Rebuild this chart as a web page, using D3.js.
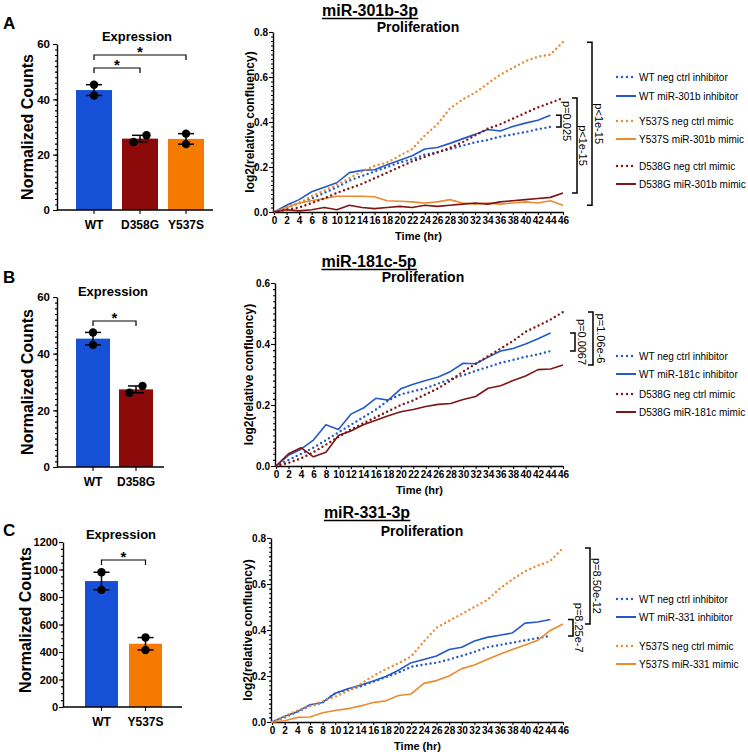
<!DOCTYPE html>
<html><head><meta charset="utf-8">
<script src="https://cdn.jsdelivr.net/npm/d3@7"></script>
<style>
body{margin:0;background:#fff;}
svg{display:block;font-family:"Liberation Sans",Arial,Helvetica,sans-serif;}
</style></head><body>
<svg id="fig" width="748" height="752"></svg>
<script>
// ================= DATA =================
const timeHr = [0,2,4,6,8,10,12,14,16,18,20,22,24,26,28,30,32,34,36,38,40,42,44,46];

// Bar panels (two replicate points each)
const barCatsA = ["WT","D358G","Y537S"];
const barPtsA  = [[45.3,41.4],[27.0,24.6],[27.6,23.8]];
const barTicksA = [0,20,40,60];

const barCatsB = ["WT","D358G"];
const barPtsB  = [[47.5,43.1],[28.6,26.2]];
const barTicksB = [0,20,40,60];

const barCatsC = ["WT","Y537S"];
const barPtsC  = [[980,852],[505,415]];
const barTicksC = [0,200,400,600,800,1000,1200];

// Line panel A: miR-301b-3p
const wtNegA   = [0,0.02,0.04,0.06,0.085,0.11,0.14,0.16,0.18,0.2,0.22,0.235,0.255,0.265,0.28,0.295,0.31,0.32,0.335,0.345,0.355,0.368,0.378];
const wtMirA   = [0,0.03,0.055,0.09,0.11,0.13,0.175,0.185,0.188,0.21,0.23,0.25,0.28,0.287,0.305,0.325,0.345,0.367,0.36,0.38,0.395,0.408,0.43];
const y537NegA = [0,0.02,0.04,0.07,0.095,0.12,0.15,0.18,0.205,0.22,0.25,0.28,0.34,0.39,0.46,0.5,0.53,0.57,0.61,0.64,0.67,0.69,0.70,0.755];
const y537MirA = [0,0.02,0.04,0.05,0.06,0.07,0.07,0.07,0.068,0.05,0.048,0.045,0.04,0.045,0.055,0.04,0.035,0.04,0.035,0.04,0.045,0.04,0.05,0.03];
const d538NegA = [0,0.01,0.02,0.04,0.06,0.085,0.105,0.125,0.15,0.175,0.2,0.225,0.245,0.265,0.285,0.31,0.34,0.37,0.39,0.415,0.44,0.465,0.485,0.507];
const d538MirA = [0,0.01,0.005,0.01,0.02,0.01,0.03,0.02,0.015,0.02,0.025,0.02,0.03,0.025,0.03,0.035,0.04,0.035,0.045,0.05,0.055,0.06,0.065,0.084];
const legendA = ["WT neg ctrl inhibitor","WT miR-301b inhibitor","Y537S neg ctrl mimic","Y537S miR-301b mimic","D538G neg ctrl mimic","D538G miR-301b mimic"];
const pLabelsA = ["p=0.025","p<1e-15","p<1e-15"];

// Line panel B: miR-181c-5p
const wtNegB   = [0,0.02,0.04,0.06,0.085,0.11,0.135,0.16,0.185,0.215,0.235,0.245,0.255,0.27,0.285,0.298,0.312,0.325,0.338,0.348,0.358,0.366,0.377];
const wtMirB   = [0,0.035,0.055,0.085,0.135,0.12,0.17,0.19,0.222,0.216,0.253,0.268,0.28,0.292,0.31,0.337,0.335,0.357,0.377,0.385,0.4,0.417,0.436];
const d538NegB = [0,0.01,0.025,0.045,0.07,0.095,0.12,0.14,0.16,0.18,0.2,0.215,0.235,0.255,0.28,0.31,0.335,0.36,0.385,0.41,0.44,0.46,0.48,0.505];
const d538MirB = [0,0.04,0.06,0.03,0.045,0.1,0.115,0.135,0.15,0.165,0.178,0.185,0.195,0.202,0.205,0.218,0.228,0.255,0.263,0.28,0.295,0.316,0.318,0.331];
const legendB = ["WT neg ctrl inhibitor","WT miR-181c inhibitor","D538G neg ctrl mimic","D538G miR-181c mimic"];
const pLabelsB = ["p=0.0067","p=1.06e-6"];

// Line panel C: miR-331-3p
const wtNegC   = [0,0.02,0.045,0.07,0.085,0.125,0.14,0.155,0.175,0.195,0.215,0.24,0.25,0.258,0.272,0.288,0.305,0.325,0.335,0.345,0.355,0.365,0.374];
const wtMirC   = [0,0.025,0.045,0.075,0.085,0.125,0.145,0.16,0.178,0.198,0.225,0.258,0.272,0.287,0.315,0.325,0.352,0.368,0.377,0.387,0.43,0.435,0.446];
const y537NegC = [0,0.025,0.05,0.07,0.09,0.11,0.135,0.165,0.2,0.23,0.255,0.285,0.35,0.41,0.44,0.47,0.5,0.53,0.58,0.62,0.655,0.68,0.7,0.757];
const y537MirC = [0,0.005,0.02,0.022,0.04,0.05,0.058,0.07,0.085,0.092,0.115,0.122,0.168,0.18,0.2,0.232,0.248,0.272,0.295,0.315,0.335,0.355,0.398,0.426];
const legendC = ["WT neg ctrl inhibitor","WT miR-331 inhibitor","Y537S neg ctrl mimic","Y537S miR-331 mimic"];
const pLabelsC = ["p=8.25e-7","p=8.50e-12"];

const yTicksLine08 = [0,0.2,0.4,0.6,0.8];
const yTicksLine06 = [0,0.2,0.4,0.6];

// ================= STYLE =================
const FONT = '"Liberation Sans", Arial, Helvetica, sans-serif';
const barColor = {WT:"#1650d6", D358G:"#8c0a0a", Y537S:"#f47b00"};
const C_BLUE = "#2459c9", C_RED = "#7f1414", C_ORANGE = "#ec8a2e";

const svg = d3.select("#fig");

function styleAxis(g, fs){
  g.selectAll("path.domain").attr("stroke","#000").attr("stroke-width",1.4);
  g.selectAll(".tick line").attr("stroke","#000").attr("stroke-width",1.1);
  g.selectAll(".tick text").attr("fill","#000").style("font-family",FONT)
    .style("font-size",fs+"px").style("font-weight","bold");
}
function txt(g, x, y, s, size, weight, anchor){
  return g.append("text").attr("x",x).attr("y",y).text(s)
    .style("font-family",FONT).style("font-size",size+"px")
    .style("font-weight",weight||"normal").attr("text-anchor",anchor||"middle").attr("fill","#000");
}

// ================= BAR PANELS =================
function drawBarPanel(o){
  const g = svg.append("g");
  const n = o.cats.length;
  const y = d3.scaleLinear().domain([0,o.yMax]).range([o.y0,o.y1]);
  const x = d3.scaleBand().domain(o.cats)
    .range([o.axisX, o.axisX + o.step*(n - o.pi + 2*o.po)])
    .paddingInner(o.pi).paddingOuter(o.po);
  const means = o.pts.map(p => d3.mean(p));

  g.selectAll("rect.bar").data(o.cats).join("rect").attr("class","bar")
    .attr("x", c => x(c)).attr("width", x.bandwidth())
    .attr("y", (c,i) => y(means[i])).attr("height", (c,i) => o.y0 - y(means[i]))
    .attr("fill", c => barColor[c]);

  o.cats.forEach((c,i) => {
    const cx = x(c) + x.bandwidth()/2;
    const lo = d3.min(o.pts[i]), hi = d3.max(o.pts[i]);
    g.append("line").attr("x1",cx).attr("x2",cx).attr("y1",y(lo)).attr("y2",y(hi))
      .attr("stroke","#000").attr("stroke-width",1.5);
    [lo,hi].forEach(v => g.append("line").attr("x1",cx-8).attr("x2",cx+8)
      .attr("y1",y(v)).attr("y2",y(v)).attr("stroke","#000").attr("stroke-width",1.5));
    const close = Math.abs(y(lo)-y(hi)) < 9;
    [lo,hi].forEach((v,k) => g.append("circle")
      .attr("cx", cx + (close ? (k===0 ? -6.5 : 6.5) : 0))
      .attr("cy", y(v)).attr("r",4.2).attr("fill","#000"));
  });

  // y axis
  const minor = g.append("g").attr("transform",`translate(${o.axisX},0)`)
    .call(d3.axisLeft(y).tickValues(d3.range(0,o.yMax+1e-9,o.minor)).tickSize(2).tickFormat(""));
  minor.select("path.domain").remove();
  styleAxis(minor, 11);
  const ya = g.append("g").attr("transform",`translate(${o.axisX},0)`)
    .call(d3.axisLeft(y).tickValues(o.ticks).tickSize(4).tickPadding(o.tickPad).tickSizeOuter(0).tickFormat(d3.format("d")));
  styleAxis(ya, o.tickFs);

  // x axis
  g.append("line").attr("x1",o.axisX).attr("x2",o.axisEnd).attr("y1",o.y0).attr("y2",o.y0)
    .attr("stroke","#000").attr("stroke-width",1.4);
  o.cats.forEach(c => {
    const cx = x(c) + x.bandwidth()/2;
    g.append("line").attr("x1",cx).attr("x2",cx).attr("y1",o.y0).attr("y2",o.y0+4)
      .attr("stroke","#000").attr("stroke-width",1.1);
    txt(g, cx, o.y0+19, c, 12, "bold");
  });

  // significance brackets
  o.brackets.forEach(b => {
    const xa = x(o.cats[b.a]) + x.bandwidth()/2, xb = x(o.cats[b.b]) + x.bandwidth()/2;
    g.append("path").attr("d",`M${xa},${b.y+5}V${b.y}H${xb}V${b.y+5}`)
      .attr("fill","none").attr("stroke","#000").attr("stroke-width",1.2);
    txt(g, (xa+xb)/2, b.y+1.5, "*", 15, "bold");
  });

  // labels
  txt(g, o.titleX, o.titleY, "Expression", 13, "bold");
  g.append("text").attr("transform",`translate(${o.ylabX},${o.ylabY}) rotate(-90)`)
    .attr("text-anchor","middle").attr("dominant-baseline","central")
    .style("font-family",FONT).style("font-size","16px").style("font-weight","bold").text("Normalized Counts");
  txt(g, 3, o.letterY, o.letter, 17, "bold", "start");
}

drawBarPanel({cats:barCatsA, pts:barPtsA, ticks:barTicksA, yMax:60, minor:2, tickPad:3, tickFs:11.5,
  y0:210, y1:44, axisX:57, axisEnd:213, step:46, pi:0.217, po:0.413,
  brackets:[{a:0,b:1,y:68},{a:0,b:2,y:55}], titleX:137, titleY:41,
  ylabX:27, ylabY:127, letter:"A", letterY:29});
drawBarPanel({cats:barCatsB, pts:barPtsB, ticks:barTicksB, yMax:60, minor:2, tickPad:3, tickFs:11.5,
  y0:467, y1:297, axisX:57, axisEnd:164, step:43, pi:0.209, po:0.442,
  brackets:[{a:0,b:1,y:321}], titleX:113, titleY:296,
  ylabX:27, ylabY:382, letter:"B", letterY:283});
drawBarPanel({cats:barCatsC, pts:barPtsC, ticks:barTicksC, yMax:1200, minor:50, tickPad:1, tickFs:11,
  y0:707, y1:542, axisX:63, axisEnd:182, step:44, pi:0.25, po:0.5,
  brackets:[{a:0,b:1,y:560}], titleX:121, titleY:539,
  ylabX:25, ylabY:620, letter:"C", letterY:536});

// ================= LINE PANELS =================
function drawLinePanel(o){
  const g = svg.append("g");
  const x = d3.scaleLinear().domain([0,46]).range([o.axisX+1, 563]);
  const y = d3.scaleLinear().domain([0,o.yMax]).range([o.y0,o.y1]);
  const line = d3.line().x(d => x(d[0])).y(d => y(d[1]));

  // axes
  const minor = g.append("g").attr("transform",`translate(${o.axisX},0)`)
    .call(d3.axisLeft(y).tickValues(d3.range(0,o.yMax+1e-9,0.02)).tickSize(2).tickFormat(""));
  minor.select("path.domain").remove();
  styleAxis(minor, 10);
  const ya = g.append("g").attr("transform",`translate(${o.axisX},0)`)
    .call(d3.axisLeft(y).tickValues(o.yTicks).tickSize(4).tickPadding(1).tickFormat(d3.format(".1f")).tickSizeOuter(0));
  styleAxis(ya, 10);
  g.append("line").attr("x1",o.axisX).attr("x2",x(0)).attr("y1",o.y0).attr("y2",o.y0)
    .attr("stroke","#000").attr("stroke-width",1.4);
  const xa = g.append("g").attr("transform",`translate(0,${o.y0})`)
    .call(d3.axisBottom(x).tickValues(timeHr).tickSize(3).tickPadding(2).tickSizeOuter(0));
  styleAxis(xa, 10);

  // series
  o.series.forEach(s => {
    const pts = d3.zip(timeHr, s.values);
    const p = g.append("path").datum(pts).attr("d", line).attr("fill","none")
      .attr("stroke", s.color);
    if (s.dotted) p.attr("stroke-width",2.4).attr("stroke-dasharray","0 4.6").attr("stroke-linecap","round");
    else p.attr("stroke-width",1.6).attr("stroke-linejoin","round");
  });

  // p-value brackets
  o.brackets.forEach(b => {
    const ya1 = y(b.hi[b.hi.length-1]), yb1 = y(b.lo[b.lo.length-1]);
    g.append("path").attr("d",`M${b.x-5},${ya1}H${b.x}V${yb1}H${b.x-5}`)
      .attr("fill","none").attr("stroke","#000").attr("stroke-width",1.5);
    g.append("text").attr("transform",`translate(${b.lx},${(ya1+yb1)/2}) rotate(90)`)
      .attr("text-anchor","middle").attr("dominant-baseline","central")
      .style("font-family",FONT).style("font-size","11px").text(b.label);
  });

  // legend
  o.series.forEach((s,i) => {
    const ly = o.legendY[i];
    const l = g.append("line").attr("y1",ly).attr("y2",ly).attr("stroke",s.color);
    if (s.dotted) l.attr("x1",617).attr("x2",634).attr("stroke-width",2.4)
      .attr("stroke-dasharray","0 5").attr("stroke-linecap","round");
    else l.attr("x1",616).attr("x2",636).attr("stroke-width",2);
    txt(g, 639, ly, s.name, 10, "normal", "start").attr("dominant-baseline","central");
  });

  // titles and labels
  const t = txt(g, o.titleX, o.titleY, o.title, 16, "bold");
  const bb = t.node().getBBox();
  g.append("line").attr("x1",bb.x).attr("x2",bb.x+bb.width).attr("y1",o.titleY+2.5).attr("y2",o.titleY+2.5)
    .attr("stroke","#000").attr("stroke-width",1.4);
  txt(g, o.prolX, o.prolY, "Proliferation", 14, "bold");
  g.append("text").attr("transform",`translate(${o.ylabX},${(o.y0+o.y1)/2}) rotate(-90)`)
    .attr("text-anchor","middle").attr("dominant-baseline","central")
    .style("font-family",FONT).style("font-size","12px").style("font-weight","bold").text("log2(relative confluency)");
  txt(g, (x(0)+x(46))/2, o.y0+28, "Time (hr)", 11, "bold");
}

drawLinePanel({axisX:273, y0:212, y1:32, yMax:0.8, yTicks:yTicksLine08,
  series:[
    {name:legendA[0], values:wtNegA, color:C_BLUE, dotted:true},
    {name:legendA[1], values:wtMirA, color:C_BLUE, dotted:false},
    {name:legendA[2], values:y537NegA, color:C_ORANGE, dotted:true},
    {name:legendA[3], values:y537MirA, color:C_ORANGE, dotted:false},
    {name:legendA[4], values:d538NegA, color:C_RED, dotted:true},
    {name:legendA[5], values:d538MirA, color:C_RED, dotted:false}],
  legendY:[77,96,121,139,166,184],
  brackets:[
    {hi:wtMirA, lo:wtNegA, x:561, lx:567, label:pLabelsA[0]},
    {hi:d538NegA, lo:d538MirA, x:577, lx:583, label:pLabelsA[1]},
    {hi:y537NegA, lo:y537MirA, x:592, lx:599, label:pLabelsA[2]}],
  title:"miR-301b-3p", titleX:370, titleY:16, prolX:418, prolY:32, ylabX:250});

drawLinePanel({axisX:275, y0:466, y1:283, yMax:0.6, yTicks:yTicksLine06,
  series:[
    {name:legendB[0], values:wtNegB, color:C_BLUE, dotted:true},
    {name:legendB[1], values:wtMirB, color:C_BLUE, dotted:false},
    {name:legendB[2], values:d538NegB, color:C_RED, dotted:true},
    {name:legendB[3], values:d538MirB, color:C_RED, dotted:false}],
  legendY:[356,374,394,412],
  brackets:[
    {hi:wtMirB, lo:wtNegB, x:575, lx:582, label:pLabelsB[0]},
    {hi:d538NegB, lo:d538MirB, x:593, lx:601, label:pLabelsB[1]}],
  title:"miR-181c-5p", titleX:369, titleY:267, prolX:423, prolY:282, ylabX:249});

drawLinePanel({axisX:271, y0:722, y1:538, yMax:0.8, yTicks:yTicksLine08,
  series:[
    {name:legendC[0], values:wtNegC, color:C_BLUE, dotted:true},
    {name:legendC[1], values:wtMirC, color:C_BLUE, dotted:false},
    {name:legendC[2], values:y537NegC, color:C_ORANGE, dotted:true},
    {name:legendC[3], values:y537MirC, color:C_ORANGE, dotted:false}],
  legendY:[599,617,646,664],
  brackets:[
    {hi:wtMirC, lo:wtNegC, x:573, lx:579, label:pLabelsC[0]},
    {hi:y537NegC, lo:y537MirC, x:590, lx:597, label:pLabelsC[1]}],
  title:"miR-331-3p", titleX:367, titleY:518, prolX:422, prolY:536, ylabX:248});
</script>
</body></html>
